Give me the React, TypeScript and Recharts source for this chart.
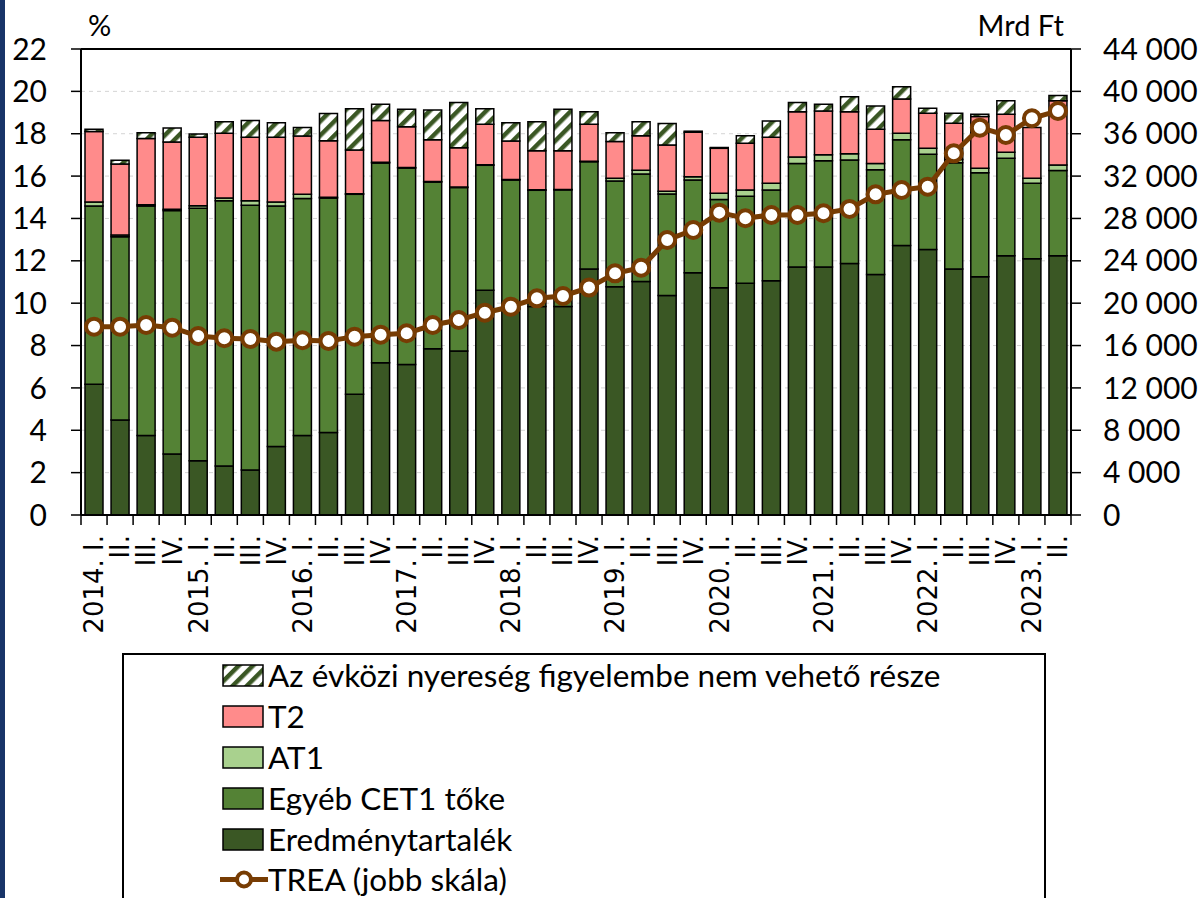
import React from 'react';
import { ComposedChart, Bar, Line, XAxis, YAxis, CartesianGrid, ReferenceLine } from 'recharts';

const periodLabels = [
  '2014. I.', 'II.', 'III.', 'IV.',
  '2015. I.', 'II.', 'III.', 'IV.',
  '2016. I.', 'II.', 'III.', 'IV.',
  '2017. I.', 'II.', 'III.', 'IV.',
  '2018. I.', 'II.', 'III.', 'IV.',
  '2019. I.', 'II.', 'III.', 'IV.',
  '2020. I.', 'II.', 'III.', 'IV.',
  '2021. I.', 'II.', 'III.', 'IV.',
  '2022. I.', 'II.', 'III.', 'IV.',
  '2023. I.', 'II.',
];

// % of TREA
const eredmenytartalek = [
  6.17, 4.49, 3.75, 2.88, 2.56, 2.31, 2.12, 3.23, 3.75, 3.9, 5.7, 7.19, 7.11, 7.85, 7.74, 10.61,
  9.72, 9.84, 9.84, 11.61, 10.78, 11.02, 10.36, 11.44, 10.73, 10.94, 11.06, 11.71, 11.71, 11.87,
  11.35, 12.72, 12.54, 11.61, 11.25, 12.24, 12.1, 12.24,
];
const egyebCet1 = [
  8.42, 8.65, 10.84, 11.49, 11.92, 12.52, 12.5, 11.36, 11.19, 11.06, 9.44, 9.43, 9.27, 7.87, 7.72, 5.9,
  6.1, 5.49, 5.51, 5.07, 4.99, 5.08, 4.8, 4.38, 4.17, 4.11, 4.28, 4.89, 5.02, 4.89,
  4.95, 4.99, 4.49, 5.02, 4.91, 4.6, 3.56, 4.02,
];
const at1 = [
  0.19, 0.08, 0.06, 0.06, 0.12, 0.14, 0.21, 0.19, 0.2, 0.04, 0.03, 0.03, 0.02, 0.02, 0.02, 0.02,
  0.02, 0.02, 0.02, 0.02, 0.13, 0.17, 0.12, 0.15, 0.29, 0.29, 0.32, 0.3, 0.28, 0.3,
  0.3, 0.31, 0.28, 0.15, 0.21, 0.28, 0.24, 0.26,
];
const t2 = [
  3.32, 3.35, 3.13, 3.18, 3.23, 3.05, 3.0, 3.05, 2.75, 2.67, 2.06, 1.98, 1.93, 1.97, 1.86, 1.92,
  1.82, 1.85, 1.83, 1.75, 1.73, 1.64, 2.19, 2.1, 2.12, 2.21, 2.17, 2.14, 2.06, 1.98,
  1.61, 1.62, 1.66, 1.71, 2.44, 1.8, 2.39, 3.04,
];
const nemVeheto = [
  0.11, 0.18, 0.27, 0.66, 0.16, 0.55, 0.8, 0.69, 0.4, 1.29, 1.95, 0.76, 0.82, 1.41, 2.13, 0.73,
  0.86, 1.37, 1.95, 0.59, 0.42, 0.66, 1.01, 0.05, 0.04, 0.36, 0.77, 0.43, 0.32, 0.71,
  1.1, 0.58, 0.23, 0.48, 0.11, 0.64, 0.0, 0.24,
];
// Mrd Ft (right scale)
const trea = [
  17780, 17780, 17940, 17690, 16900, 16690, 16620, 16370, 16500, 16440, 16840, 17030, 17160, 17940, 18410, 19100,
  19670, 20460, 20680, 21470, 22820, 23350, 25970, 26910, 28550, 28020, 28330, 28330, 28490, 28900,
  30280, 30690, 31000, 34150, 36570, 35880, 37460, 38150,
];

const leftTicks = [0, 2, 4, 6, 8, 10, 12, 14, 16, 18, 20, 22];
const rightTicks = [0, 4000, 8000, 12000, 16000, 20000, 24000, 28000, 32000, 36000, 40000, 44000];

const seriesNames = {
  nemVeheto: 'Az évközi nyereség figyelembe nem vehető része',
  t2: 'T2',
  at1: 'AT1',
  egyeb: 'Egyéb CET1 tőke',
  ered: 'Eredménytartalék',
  trea: 'TREA (jobb skála)',
};

const C_ERED = '#3A5724';
const C_EGYEB = '#548235';
const C_AT1 = '#A9D18E';
const C_T2 = '#FF8B8B';
const C_TREA = '#773C03';
const HATCH = '#3A5724';

const data = periodLabels.map((label, i) => ({
  id: String(i),
  label,
  ered: eredmenytartalek[i],
  egyeb: egyebCet1[i],
  at1: at1[i],
  t2: t2[i],
  nemVeheto: nemVeheto[i],
  trea: trea[i],
}));

const fmtThousands = (v: number) => {
  const s = String(v);
  return s.replace(/\B(?=(\d{3})+(?!\d))/g, '\u00a0');
};

const XTick = (props: any) => {
  const { x, y, payload } = props;
  const i = Number(payload.value);
  let off = payload && typeof payload.offset === 'number' ? payload.offset : 0;
  if (!(off > 5 && off < 20)) off = (1071 - 81) / periodLabels.length / 2;
  const axisY = y - 20;
  const isLast = i === periodLabels.length - 1;
  return (
    <g>
      <line x1={x - off} x2={x - off} y1={axisY} y2={axisY + 10} stroke="#000" strokeWidth={1.5} />
      {isLast && <line x1={x + off} x2={x + off} y1={axisY} y2={axisY + 10} stroke="#000" strokeWidth={1.5} />}
      <text
        x={x}
        y={y}
        transform={`rotate(-90, ${x}, ${y})`}
        textAnchor="end"
        dy="0.36em"
        fontFamily="'DejaVu Sans', sans-serif"
        fontSize={26}
        fill="#000"
      >
        {periodLabels[i]}
      </text>
    </g>
  );
};

const HatchPattern = ({ id }: { id: string }) => (
  <pattern id={id} patternUnits="userSpaceOnUse" width="10" height="10" patternTransform="rotate(45)">
    <rect x="0" y="0" width="10" height="10" fill="#fff" />
    <rect x="0" y="0" width="4.5" height="10" fill={HATCH} />
  </pattern>
);

const LegendRow = ({ top, icon, text }: { top: number; icon: React.ReactNode; text: string }) => (
  <div style={{ position: 'absolute', left: 0, top, height: 41, width: '100%' }}>
    <div style={{ position: 'absolute', left: 94, top: 0, width: 52, height: 41 }}>{icon}</div>
    <div
      style={{
        position: 'absolute',
        left: 144,
        top: 0,
        lineHeight: '41px',
        fontFamily: 'Lato, sans-serif',
        fontSize: 31.5,
        color: '#000',
        whiteSpace: 'nowrap',
      }}
    >
      {text}
    </div>
  </div>
);

const boxIcon = (fill: string) => (
  <svg width={52} height={41}>
    <defs>
      <HatchPattern id="hatchLegend" />
    </defs>
    <rect x={5} y={10} width={40} height={21} fill={fill} stroke="#000" strokeWidth={1.5} />
  </svg>
);

const treaIcon = (
  <svg width={52} height={41}>
    <line x1={2} x2={50} y1={20.5} y2={20.5} stroke={C_TREA} strokeWidth={5} />
    <circle cx={26} cy={20.5} r={7} fill="#fff" stroke={C_TREA} strokeWidth={4} />
  </svg>
);

export default function App() {
  return (
    <div
      style={{
        position: 'absolute',
        left: 0,
        top: 0,
        width: 1202,
        height: 898,
        overflow: 'hidden',
        background: '#fff',
      }}
    >
      <div style={{ position: 'absolute', left: 0, top: 0, width: 5, height: 898, background: '#183468' }} />
      <div
        style={{
          position: 'absolute',
          left: 88,
          top: 8,
          fontFamily: 'Lato, sans-serif',
          fontSize: 29,
          lineHeight: '34px',
          color: '#000',
        }}
      >
        %
      </div>
      <div
        style={{
          position: 'absolute',
          right: 1202 - 1064,
          top: 8,
          fontFamily: 'Lato, sans-serif',
          fontSize: 29,
          lineHeight: '34px',
          color: '#000',
        }}
      >
        Mrd Ft
      </div>
      <div style={{ position: 'absolute', left: 0, top: 0 }}>
        <ComposedChart
          width={1202}
          height={640}
          data={data}
          margin={{ top: 49, right: 0, bottom: 5, left: 0 }}
          barSize={18}
        >
          <defs>
            <HatchPattern id="hatchBar" />
          </defs>
          <CartesianGrid
            vertical={false}
            stroke="#d4d4d4"
            strokeDasharray="4 4"
            yAxisId="left"
          />
          <XAxis
            dataKey="id"
            interval={0}
            tick={<XTick />}
            tickLine={false}
            tickSize={10}
            tickMargin={10}
            height={120}
            axisLine={{ stroke: '#000', strokeWidth: 2 }}
          />
          <YAxis
            yAxisId="left"
            orientation="left"
            width={81}
            domain={[0, 22]}
            ticks={leftTicks}
            interval={0}
            tickSize={10}
            tickMargin={24}
            axisLine={{ stroke: '#000', strokeWidth: 2 }}
            tickLine={{ stroke: '#000', strokeWidth: 1.5 }}
            tick={{ fill: '#000', fontFamily: 'Lato, sans-serif', fontSize: 30 }}
          />
          <YAxis
            yAxisId="right"
            orientation="right"
            width={131}
            domain={[0, 44000]}
            ticks={rightTicks}
            interval={0}
            tickSize={10}
            tickMargin={22}
            tickFormatter={fmtThousands}
            axisLine={{ stroke: '#000', strokeWidth: 2 }}
            tickLine={{ stroke: '#000', strokeWidth: 1.5 }}
            tick={{ fill: '#000', fontFamily: 'Lato, sans-serif', fontSize: 30, textAnchor: 'start' }}
          />
          <ReferenceLine yAxisId="left" y={22} stroke="#000" strokeWidth={2} ifOverflow="extendDomain" />
          <Bar yAxisId="left" dataKey="ered" name={seriesNames.ered} stackId="s" fill={C_ERED} stroke="#000" strokeWidth={1.5} isAnimationActive={false} />
          <Bar yAxisId="left" dataKey="egyeb" name={seriesNames.egyeb} stackId="s" fill={C_EGYEB} stroke="#000" strokeWidth={1.5} isAnimationActive={false} />
          <Bar yAxisId="left" dataKey="at1" name={seriesNames.at1} stackId="s" fill={C_AT1} stroke="#000" strokeWidth={1.5} isAnimationActive={false} />
          <Bar yAxisId="left" dataKey="t2" name={seriesNames.t2} stackId="s" fill={C_T2} stroke="#000" strokeWidth={1.5} isAnimationActive={false} />
          <Bar yAxisId="left" dataKey="nemVeheto" name={seriesNames.nemVeheto} stackId="s" fill="url(#hatchBar)" stroke="#000" strokeWidth={1.5} isAnimationActive={false} />
          <Line
            yAxisId="right"
            type="linear"
            dataKey="trea"
            name={seriesNames.trea}
            stroke={C_TREA}
            strokeWidth={5}
            dot={{ r: 8, fill: '#fff', stroke: C_TREA, strokeWidth: 4 }}
            activeDot={false}
            isAnimationActive={false}
          />
        </ComposedChart>
      </div>
      <div
        style={{
          position: 'absolute',
          left: 122,
          top: 653,
          width: 924,
          height: 270,
          border: '2px solid #000',
          boxSizing: 'border-box',
          background: '#fff',
        }}
      >
        <LegendRow top={0} icon={boxIcon('url(#hatchLegend)')} text={seriesNames.nemVeheto} />
        <LegendRow top={41} icon={boxIcon(C_T2)} text={seriesNames.t2} />
        <LegendRow top={82} icon={boxIcon(C_AT1)} text={seriesNames.at1} />
        <LegendRow top={123} icon={boxIcon(C_EGYEB)} text={seriesNames.egyeb} />
        <LegendRow top={164} icon={boxIcon(C_ERED)} text={seriesNames.ered} />
        <LegendRow top={204} icon={treaIcon} text={seriesNames.trea} />
      </div>
    </div>
  );
}
